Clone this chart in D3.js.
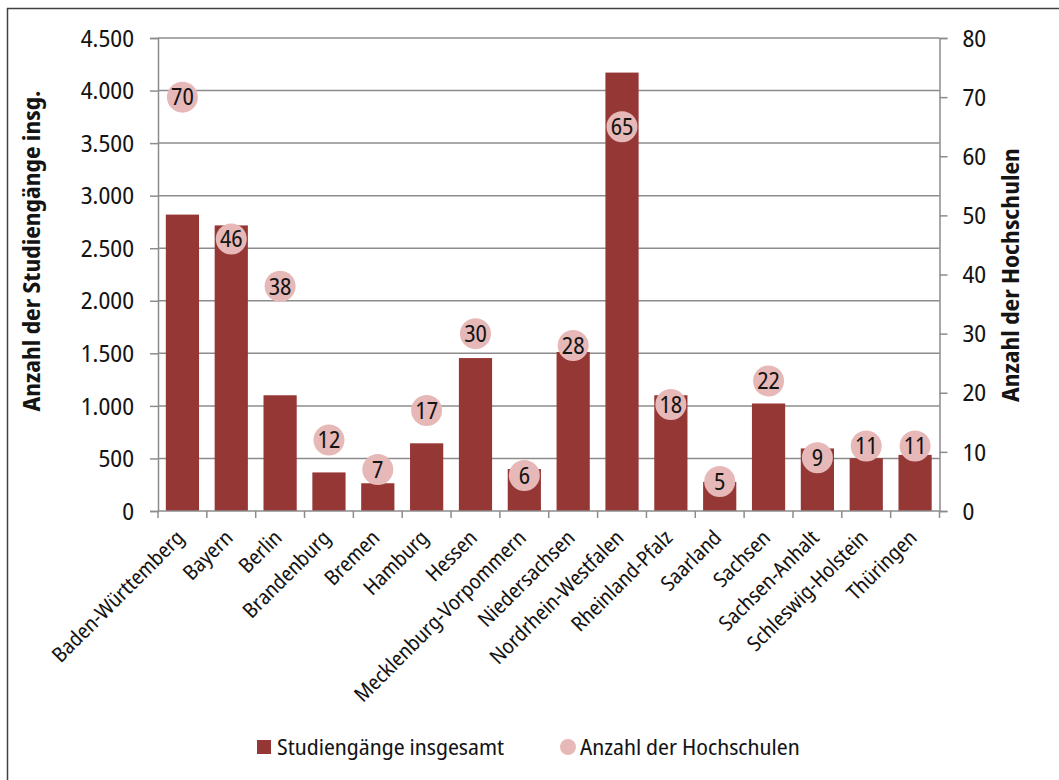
<!DOCTYPE html>
<html>
<head>
<meta charset="utf-8">
<script src="https://cdn.jsdelivr.net/npm/d3@7"></script>
<style>
  body { margin: 0; background: #fff; }
  svg { display: block; font-family: "Noto Sans Display", "Open Sans", sans-serif; font-stretch: condensed; }
</style>
</head>
<body>
<script>
// Bundeslaender, Studiengaenge und Hochschulen
var laender = ['Baden-Württemberg', 'Bayern', 'Berlin', 'Brandenburg', 'Bremen', 'Hamburg', 'Hessen',
  'Mecklenburg-Vorpommern', 'Niedersachsen', 'Nordrhein-Westfalen', 'Rheinland-Pfalz', 'Saarland',
  'Sachsen', 'Sachsen-Anhalt', 'Schleswig-Holstein', 'Thüringen'];
var studiengaenge = [2820, 2717, 1101, 367, 264, 644, 1455, 399, 1513, 4171, 1101, 277, 1023, 595, 502, 534];
var hochschulen = [70, 46, 38, 12, 7, 17, 30, 6, 28, 65, 18, 5, 22, 9, 11, 11];
var leftTicks = [0, 500, 1000, 1500, 2000, 2500, 3000, 3500, 4000, 4500];
var rightTicks = [0, 10, 20, 30, 40, 50, 60, 70, 80];

var width = 1059, height = 780;
var margin = {top: 38, right: 120, bottom: 269, left: 158};
var barColor = '#953735', dotColor = '#e6b9b8', gridColor = '#8c8c8c', textColor = '#141414';

var svg = d3.select('body').append('svg').attr('width', width).attr('height', height);

// frame
svg.append('rect')
  .attr('x', 7.5).attr('y', 8.5)
  .attr('width', width + 10).attr('height', height + 10)
  .attr('fill', 'none').attr('stroke', '#404040').attr('stroke-width', 1.5);

var x = d3.scaleBand().domain(laender)
  .range([margin.left, width - margin.right + 0.5])
  .paddingInner(0.32).paddingOuter(0.16);
var yL = d3.scaleLinear().domain([0, 4500]).range([height - margin.bottom, margin.top]);
var yR = d3.scaleLinear().domain([0, 80]).range([height - margin.bottom, margin.top]);
var x0 = margin.left, x1 = width - margin.right + 0.5;

// gridlines
svg.append('g').selectAll('line').data(leftTicks.slice(1)).enter().append('line')
  .attr('x1', x0).attr('x2', x1)
  .attr('y1', function(d) { return yL(d); }).attr('y2', function(d) { return yL(d); })
  .attr('stroke', gridColor).attr('stroke-width', 1.5);

// bars
svg.append('g').selectAll('rect').data(laender).enter().append('rect')
  .attr('x', function(d) { return x(d); })
  .attr('width', x.bandwidth())
  .attr('y', function(d, i) { return yL(studiengaenge[i]); })
  .attr('height', function(d, i) { return yL(0) - yL(studiengaenge[i]); })
  .attr('fill', barColor);

// left axis
var axL = svg.append('g').attr('transform', 'translate(' + x0 + ',0)')
  .call(d3.axisLeft(yL).tickValues(leftTicks).tickSize(8).tickPadding(16)
    .tickFormat(function(d) { return d3.format(',')(d).replace(/,/g, '.'); }));
// right axis
var axR = svg.append('g').attr('transform', 'translate(' + x1 + ',0)')
  .call(d3.axisRight(yR).tickValues(rightTicks).tickSize(8).tickPadding(15));
[axL, axR].forEach(function(a) {
  a.attr('font-family', null).attr('font-size', null);
  a.select('.domain').attr('stroke', gridColor).attr('stroke-width', 1.5);
  a.selectAll('.tick line').attr('stroke', gridColor).attr('stroke-width', 1.5);
  a.selectAll('text').attr('font-size', 24).attr('fill', textColor).attr('dy', '0.34em');
});

// x axis: baseline and ticks on band edges
var base = yL(0);
var xa = svg.append('g');
xa.append('line').attr('x1', x0).attr('x2', x1).attr('y1', base).attr('y2', base)
  .attr('stroke', gridColor).attr('stroke-width', 1.5);
xa.selectAll('line.t').data(d3.range(laender.length + 1)).enter().append('line')
  .attr('class', 't')
  .attr('x1', function(i) { return x0 + (x1 - x0) * i / laender.length; })
  .attr('x2', function(i) { return x0 + (x1 - x0) * i / laender.length; })
  .attr('y1', base).attr('y2', base + 7)
  .attr('stroke', gridColor).attr('stroke-width', 1.5);

xa.selectAll('text').data(laender).enter().append('text')
  .attr('transform', function(d) {
    return 'translate(' + (x(d) + x.bandwidth() / 2 + 3) + ',' + (base + 28) + ') rotate(-45)';
  })
  .attr('text-anchor', 'end')
  .attr('font-size', 21).attr('fill', textColor)
  .text(function(d) { return d; });

// dots
var dots = svg.append('g').selectAll('g').data(laender).enter().append('g')
  .attr('transform', function(d, i) {
    return 'translate(' + (x(d) + x.bandwidth() / 2) + ',' + yR(hochschulen[i]) + ')';
  });
dots.append('circle').attr('r', 15.5).attr('fill', dotColor);
dots.append('text')
  .attr('text-anchor', 'middle').attr('dy', '0.36em')
  .attr('font-size', 23).attr('fill', textColor)
  .text(function(d, i) { return hochschulen[i]; });

// axis titles
svg.append('text')
  .attr('transform', 'translate(40,' + 251 + ') rotate(-90)')
  .attr('text-anchor', 'middle').attr('font-size', 24).attr('font-weight', 'bold').attr('fill', textColor)
  .text('Anzahl der Studiengänge insg.');
svg.append('text')
  .attr('transform', 'translate(1019,' + 275 + ') rotate(-90)')
  .attr('text-anchor', 'middle').attr('font-size', 24).attr('font-weight', 'bold').attr('fill', textColor)
  .text('Anzahl der Hochschulen');

// legend
var lg = svg.append('g').attr('transform', 'translate(0,747)');
lg.append('rect').attr('x', 257).attr('y', -7).attr('width', 14).attr('height', 14).attr('fill', barColor);
lg.append('text').attr('x', 277).attr('dy', '0.35em').attr('font-size', 22.5).attr('fill', textColor)
  .text('Studiengänge insgesamt');
lg.append('circle').attr('cx', 568).attr('cy', 0).attr('r', 8).attr('fill', dotColor);
lg.append('text').attr('x', 580).attr('dy', '0.35em').attr('font-size', 22.5).attr('fill', textColor)
  .text('Anzahl der Hochschulen');
</script>
</body>
</html>
